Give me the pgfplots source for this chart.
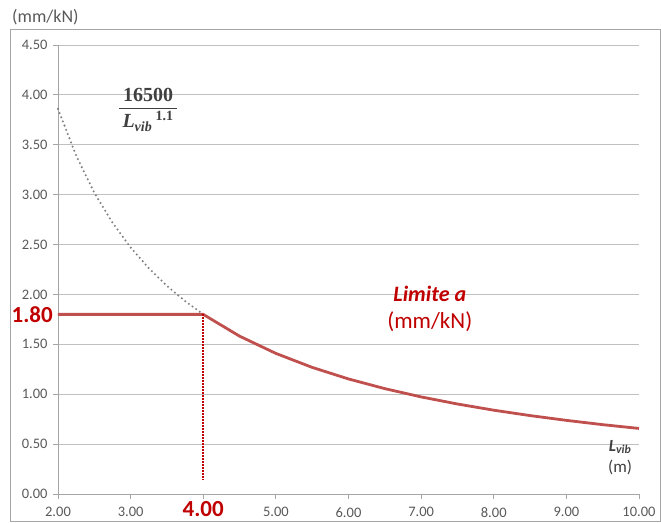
\documentclass[border=0pt]{standalone}
\usepackage{pgfplots}
\pgfplotsset{compat=1.18}
\usepackage{fontspec}
\setmainfont{Carlito}
\newfontfamily\formfont{Liberation Serif}
\definecolor{curvered}{HTML}{C0504D}
\definecolor{textred}{HTML}{C00000}
\definecolor{gridgray}{HTML}{C0C0C0}
\definecolor{axisgray}{HTML}{A6A6A6}
\definecolor{ticktext}{HTML}{595959}
\begin{document}
\begin{tikzpicture}
\path[use as bounding box] (-58pt,-28pt) rectangle (603pt,494pt);
\draw[axisgray, line width=0.8pt] (-48pt,-27pt) rectangle (602pt,465pt);
\begin{axis}[
  scale only axis, width=581pt, height=449pt,
  xmin=2, xmax=10, ymin=0, ymax=4.5,
  axis lines*=left,
  axis line style={axisgray, line width=0.8pt},
  xtick={2,3,4,5,6,7,8,9,10},
  xticklabels={2.00,3.00,{},5.00,6.00,7.00,8.00,9.00,10.00},
  ytick={0,0.5,1,1.5,2,2.5,3,3.5,4,4.5},
  yticklabels={0.00,0.50,1.00,1.50,2.00,2.50,3.00,3.50,4.00,4.50},
  ticklabel style={font=\fontsize{14.5}{16}\selectfont, color=ticktext},
  xticklabel style={yshift=-5pt},
  yticklabel style={xshift=-2pt},
  tick align=outside, major tick length=5pt,
  tick style={axisgray, line width=0.8pt},
  ymajorgrids, grid style={gridgray, line width=0.8pt},
  clip=false,
]
\addplot[color=gray, line width=2.3pt, line cap=round, dash pattern=on 0pt off 4.5pt] coordinates {
 (2,3.860) (2.25,3.391) (2.5,3.020) (2.75,2.719) (3,2.471)
 (3.25,2.263) (3.5,2.086) (3.75,1.933) (4,1.801)};
\addplot[color=curvered, line width=2.8pt] coordinates {
 (2,1.80) (4,1.80) (4.5,1.582) (5,1.409) (5.5,1.269) (6,1.153) (6.5,1.056)
 (7,0.973) (7.5,0.902) (8,0.840) (8.5,0.786) (9,0.738) (9.5,0.695) (10,0.657)};
\addplot[color=textred, line width=1.6pt, dash pattern=on 1.5pt off 1.5pt] coordinates {(4,1.80) (4,0.14)};
\end{axis}
\node[anchor=east, inner sep=0pt, color=textred, font=\fontsize{23}{25}\selectfont\bfseries] at (-5pt,179.6pt) {1.80};
\node[anchor=north, inner sep=0pt, color=textred, font=\fontsize{23}{25}\selectfont\bfseries] at (145.25pt,-7pt) {4.00};
\node[color=textred, font=\fontsize{22}{24}\selectfont\bfseries\itshape] at (371.8pt,200.6pt) {Limite a};
\node[color=textred, font=\fontsize{23}{25}\selectfont] at (371.8pt,172.6pt) {(mm/kN)};
\node[color=black!75, font=\fontsize{17}{19}\selectfont\bfseries\itshape] at (562.1pt,46.9pt) {L\textsubscript{vib}};
\node[color=black!75, font=\fontsize{17}{19}\selectfont] at (562.1pt,26.9pt) {(m)};
\node[color=black!75, align=center, inner sep=0pt, font=\formfont\bfseries\fontsize{20}{20}\selectfont] at (90.1pt,384.1pt) {16500\\[-13pt]\rule{58pt}{1.3pt}\\[-1pt]\textit{L}\textsubscript{\textit{vib}}\,\textsuperscript{1.1}};
\node[anchor=west, inner sep=0pt, color=ticktext, font=\fontsize{18}{20}\selectfont] at (-46pt,477pt) {(mm/kN)};
\end{tikzpicture}
\end{document}
